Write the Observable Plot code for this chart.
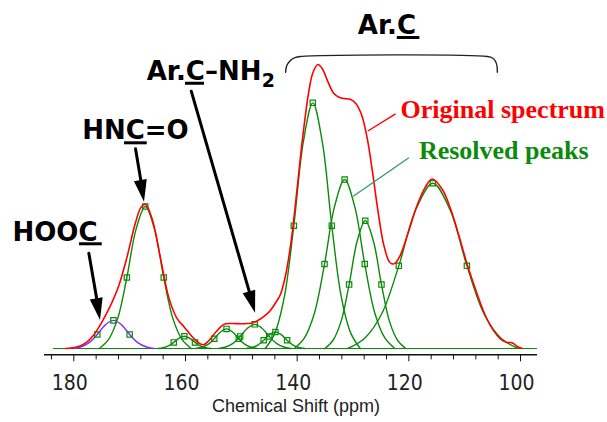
<!DOCTYPE html>
<html><head><meta charset="utf-8">
<script src="https://cdn.jsdelivr.net/npm/d3@7"></script>
<script src="https://cdn.jsdelivr.net/npm/@observablehq/plot@0.6"></script>
<style>
html,body{margin:0;padding:0;background:#fff;}
#chart{width:607px;height:422px;}
</style></head><body><div id="chart"></div>
<script>
// ---- Data (ppm, intensity) ----
const originalSpectrum = [
  [181.5,0],[179.5,0.5],[178,1.8],[176.5,4.6],[175,9.2],[173.5,14.8],[172,21.8],[170.5,32],[169,44],[168,49.6],
  [167.2,50.8],[166,45.8],[164.5,32],[163,18],[161.5,10.5],[160.2,7.5],[159,4.6],[157.8,2.2],[156.8,1.3],[155.8,2.8],
  [154.6,5.7],[153.6,7.8],[152.8,8.7],[151.5,8.8],[150,8.7],[149,8.8],[148,9.0],[146.6,10.4],[145.5,12],[144.8,13.4],
  [143.6,16.9],[143,19],[142,26.5],[141,39],[140,56.5],[139,74.5],[138,89.5],[137.2,97],[136.3,100],[135.5,98.5],
  [134.5,94],[133.5,90],[132.5,88.5],[131.5,88],[130.5,87.8],[129.5,86.3],[128.5,82.5],[127.5,74.5],[126.5,62],
  [125.5,48],[124.5,36.5],[123.5,30.5],[123,29.8],[122.5,30],[121.5,33],[120,41.5],[118.5,50.5],[117,57],[115.8,59.7],
  [114,56],[112.5,49],[111,39.5],[109.5,29.3],[108,20.5],[106.5,12.5],[105,6.8],[103.5,3.2],[102.5,2.2],[101.5,2.0],
  [100.5,0.6],[99.7,0]
];
const peakHOOC = [[180.15,0],[178.7,0.62],[177.25,2.08],[175.8,4.95],[174.35,8.33],[172.9,9.9],[171.45,8.33],[170.0,4.95],[168.55,2.08],[167.1,0.62],[165.65,0]];
const peakAmide = [[175.45,0],[173.8,3.13],[172.15,10.51],[170.5,25],[168.85,42.05],[167.2,50],[165.55,42.05],[163.9,25],[162.25,10.51],[160.6,3.13],[158.95,0]];
const peak160 = [[164.95,0],[164.0,0.27],[163.05,0.9],[162.1,2.15],[161.15,3.62],[160.2,4.3],[159.25,3.62],[158.3,2.15],[157.35,0.9],[156.4,0.27],[155.45,0]];
const peak153 = [[158.15,0],[157.05,0.43],[155.95,1.45],[154.85,3.45],[153.75,5.8],[152.65,6.9],[151.55,5.8],[150.45,3.45],[149.35,1.45],[148.25,0.43],[147.15,0]];
const peak148 = [[154.1,0],[152.8,0.53],[151.5,1.79],[150.2,4.25],[148.9,7.15],[147.6,8.5],[146.3,7.15],[145.0,4.25],[143.7,1.79],[142.4,0.53],[141.1,0]];
const peak144 = [[149.15,0],[148.1,0.36],[147.05,1.22],[146.0,2.9],[144.95,4.88],[143.9,5.8],[142.85,4.88],[141.8,2.9],[140.75,1.22],[139.7,0.36],[138.65,0]];
const peak137 = [[145.7,0],[144.0,5.41],[142.3,18.18],[140.6,43.25],[138.9,72.74],[137.2,86.5],[135.5,72.74],[133.8,43.25],[132.1,18.18],[130.4,5.41],[128.7,0]];
const peak131 = [[140.5,0],[138.7,3.72],[136.9,12.51],[135.1,29.75],[133.3,50.03],[131.5,59.5],[129.7,50.03],[127.9,29.75],[126.1,12.51],[124.3,3.72],[122.5,0]];
const peak128 = [[135.05,0],[133.6,2.81],[132.15,9.46],[130.7,22.5],[129.25,37.84],[127.8,45],[126.35,37.84],[124.9,22.5],[123.45,9.46],[122.0,2.81],[120.55,0]];
const peak116 = [[130.95,0],[127.9,3.64],[124.85,12.23],[121.8,29.1],[118.75,48.94],[115.7,58.2],[112.65,48.94],[109.6,29.1],[106.55,12.23],[103.5,3.64],[100.45,0]];
const majorTicks = [180,160,140,120,100];
const minorTicks = [184,176,172,168,164,156,152,148,144,136,132,128,124,116,112,108,104];
const axisTitle = "Chemical Shift (ppm)";

// ---- Plot ----
const GREEN = "#0b8a0b", RED = "#ff0000", PURPLE = "#7b30f0";
const yMin = -2.22;
const greenPeaks = [peakAmide, peak160, peak153, peak148, peak144, peak137, peak131, peak128, peak116];
const markerIdx = new Set([3,5,7]);
const markers = [peakHOOC, ...greenPeaks].flatMap(p => p.filter((d,i) => markerIdx.has(i)));
const X = d => d[0], Y = d => d[1];
const boldSans = "DejaVu Sans";
const tickFont = "'Liberation Sans Narrow','DejaVu Sans Condensed','Liberation Sans',sans-serif";

const arrows = [
  {x1:177.31, y1:33.56, x2:175.22, y2:9.86},
  {x1:168.95, y1:70.3, x2:167.34, y2:51.5},
  {x1:158.97, y1:90.6, x2:147.45, y2:12.43}
];
const underlines = [
  {x1:178.98, x2:174.91, y:36.87},
  {x1:170.92, x2:166.85, y:72.43},
  {x1:160.0, x2:156.6, y:93.4},
  {x1:122.07, x2:118.03, y:109.51}
];
const bracket = [[142.08,97.29],[141.88,99.54],[141.29,101.27],[140.41,102.43],[139.39,102.82],
                 [105.95,102.82],[105.0,102.29],[104.47,101.06],[104.2,99.3],[104.16,97.29]];

const svg = Plot.plot({
  width: 607, height: 422,
  marginLeft: 44, marginRight: 70, marginTop: 0, marginBottom: 67.7,
  x: {domain: [185.25, 96.96], axis: null},
  y: {domain: [yMin, 122.54], axis: null},
  style: {background: "white", overflow: "visible"},
  marks: [
    Plot.ruleY([0], {x1: 183.64, x2: 96.96, stroke: GREEN, strokeWidth: 1.2}),
    ...greenPeaks.map(p => Plot.line(p, {x: X, y: Y, curve: "catmull-rom", stroke: GREEN, strokeWidth: 1.4})),
    Plot.line(peakHOOC, {x: X, y: Y, curve: "catmull-rom", stroke: PURPLE, strokeWidth: 1.4}),
    Plot.dot(markers, {x: X, y: Y, symbol: "square", r: 3, stroke: GREEN, strokeWidth: 1.2, fill: "none"}),
    Plot.line(originalSpectrum, {x: X, y: Y, curve: "catmull-rom", stroke: RED, strokeWidth: 1.6}),
    // axis
    Plot.ruleY([yMin], {stroke: "#111", strokeWidth: 1.6}),
    Plot.ruleX(minorTicks, {x: d => d, y1: yMin, y2: -4.0, stroke: "#111", strokeWidth: 1}),
    Plot.ruleX(majorTicks, {x: d => d, y1: yMin, y2: -4.68, stroke: "#111", strokeWidth: 1}),
    Plot.text(majorTicks, {x: d => d, y: yMin, dy: 28, dx: -4, text: d => String(d), fontSize: 21, fontFamily: tickFont, fill: "#222"}),
    Plot.text([axisTitle], {frameAnchor: "bottom", dy: 57, dx: 5, fontSize: 18, fontFamily: "'Liberation Sans',sans-serif", fill: "#222"}),
    // annotations
    Plot.text([{t: "HOOC", x: 190.98, y: 40.95}, {t: "HNC=O", x: 178.5, y: 76.76}, {t: "Ar.C", x: 129.13, y: 113.73}],
      {x: "x", y: "y", text: "t", textAnchor: "start", fontSize: 26, fontWeight: "bold", fontFamily: boldSans, fill: "#000"}),
    Plot.text([{t: "Ar.C–NH", x: 146.4, y: 97.54}],
      {x: "x", y: "y", text: "t", textAnchor: "end", fontSize: 26, fontWeight: "bold", fontFamily: boldSans, fill: "#000"}),
    Plot.text([{t: "2", x: 146.35, y: 94.15}], {x: "x", y: "y", text: "t", textAnchor: "start", fontSize: 19, fontWeight: "bold", fontFamily: boldSans, fill: "#000"}),
    Plot.ruleY(underlines, {y: "y", x1: "x1", x2: "x2", stroke: "#000", strokeWidth: 3}),
    Plot.arrow(arrows, {x1: "x1", y1: "y1", x2: "x2", y2: "y2", stroke: "#000", strokeWidth: 3, headLength: 0, insetEnd: 9}),
    Plot.line(bracket, {x: X, y: Y, curve: "catmull-rom", stroke: "#222", strokeWidth: 1.4}),
    Plot.link([{x1: 122.38, y1: 82.64, x2: 127.34, y2: 76.58}], {x1: "x1", y1: "y1", x2: "x2", y2: "y2", stroke: RED, strokeWidth: 1.4}),
    Plot.link([{x1: 120.0, y1: 67.15, x2: 129.96, y2: 53.63}], {x1: "x1", y1: "y1", x2: "x2", y2: "y2", stroke: "#2f9a6a", strokeWidth: 1.3}),
    Plot.text([{t: "Original spectrum", x: 121.48, y: 84.15, c: RED}, {t: "Resolved peaks", x: 118.2, y: 69.72, c: GREEN}],
      {x: "x", y: "y", text: "t", fill: "c", textAnchor: "start", fontSize: 26, fontWeight: "bold", fontFamily: "'Liberation Serif','Times New Roman',serif"})
  ]
});

// filled arrow heads, positioned through the plot's own scales
const sx = svg.scale("x"), sy = svg.scale("y");
const g = d3.select(svg).append("g");
for (const a of arrows) {
  const x1 = sx.apply(a.x1), y1 = sy.apply(a.y1), x2 = sx.apply(a.x2), y2 = sy.apply(a.y2);
  const dx = x2 - x1, dy = y2 - y1, L = Math.hypot(dx, dy), ux = dx / L, uy = dy / L;
  const bx = x2 - ux * 22, by = y2 - uy * 22;
  const pts = [[x2, y2], [bx - uy * 6.5, by + ux * 6.5], [bx + uy * 6.5, by - ux * 6.5]];
  g.append("polygon").attr("points", pts.map(p => p.join(",")).join(" ")).attr("fill", "#000");
}
document.getElementById("chart").appendChild(svg);
</script></body></html>
